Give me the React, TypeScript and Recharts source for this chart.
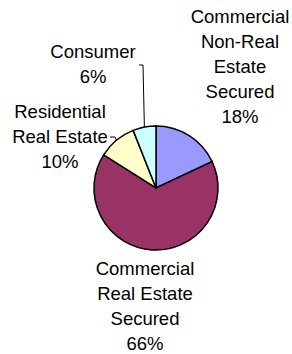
import { PieChart, Pie, Cell } from "recharts";

const categories = [
  ["Commercial", "Non-Real", "Estate", "Secured"],
  ["Commercial", "Real Estate", "Secured"],
  ["Residential", "Real Estate"],
  ["Consumer"],
];
const shares = [18, 66, 10, 6];
const colors = ["#9999FF", "#993366", "#FFFFCC", "#CCFFFF"];

// label anchor (centre of first line) relative to pie centre, plus optional leader elbows
const labelLayout = [
  { dx: 84, dy: -171, leader: [] as number[][] },
  { dx: -11, dy: 81, leader: [] as number[][] },
  { dx: -96, dy: -76, leader: [[-41, -51], [-46, -51]] },
  { dx: -63, dy: -136, leader: [[-13, -123], [-17, -123]] },
];

const data = shares.map((value, i) => ({ name: categories[i].join(" "), value }));

const FONT = 18.5;
const LINE = 25;
const RAD = Math.PI / 180;

const renderLabel = (props: any) => {
  const { cx, cy, midAngle, outerRadius, index } = props;
  const lay = labelLayout[index];
  const lines = [...categories[index], `${shares[index]}%`];
  const x = cx + lay.dx;
  const y0 = cy + lay.dy + FONT * 0.35;
  const ex = cx + outerRadius * Math.cos(-midAngle * RAD);
  const ey = cy + outerRadius * Math.sin(-midAngle * RAD);
  const pts = lay.leader.length
    ? [[ex, ey], ...lay.leader.map(([a, b]) => [cx + a, cy + b])]
    : [];
  return (
    <g key={`lbl-${index}`}>
      {pts.length > 0 && (
        <polyline
          points={pts.map((p) => p.join(",")).join(" ")}
          fill="none"
          stroke="#000"
          strokeWidth={1}
        />
      )}
      <text
        x={x}
        y={y0}
        textAnchor="middle"
        fontFamily="'Liberation Sans', Arial, sans-serif"
        fontSize={FONT}
        fill="#000"
      >
        {lines.map((t, i) => (
          <tspan key={i} x={x} y={y0 + i * LINE}>
            {t}
          </tspan>
        ))}
      </text>
    </g>
  );
};

export default function App() {
  return (
    <div style={{ position: "absolute", left: 0, top: 0, width: 292, height: 354, background: "#fff" }}>
      <PieChart width={292} height={354} margin={{ top: 0, right: 0, bottom: 0, left: 0 }}>
        <Pie
          data={data}
          dataKey="value"
          cx={156}
          cy={188}
          outerRadius={62}
          startAngle={90}
          endAngle={-270}
          stroke="#000"
          strokeWidth={1.5}
          label={renderLabel}
          labelLine={false}
          isAnimationActive={false}
        >
          {data.map((_, i) => (
            <Cell key={i} fill={colors[i]} />
          ))}
        </Pie>
      </PieChart>
    </div>
  );
}
